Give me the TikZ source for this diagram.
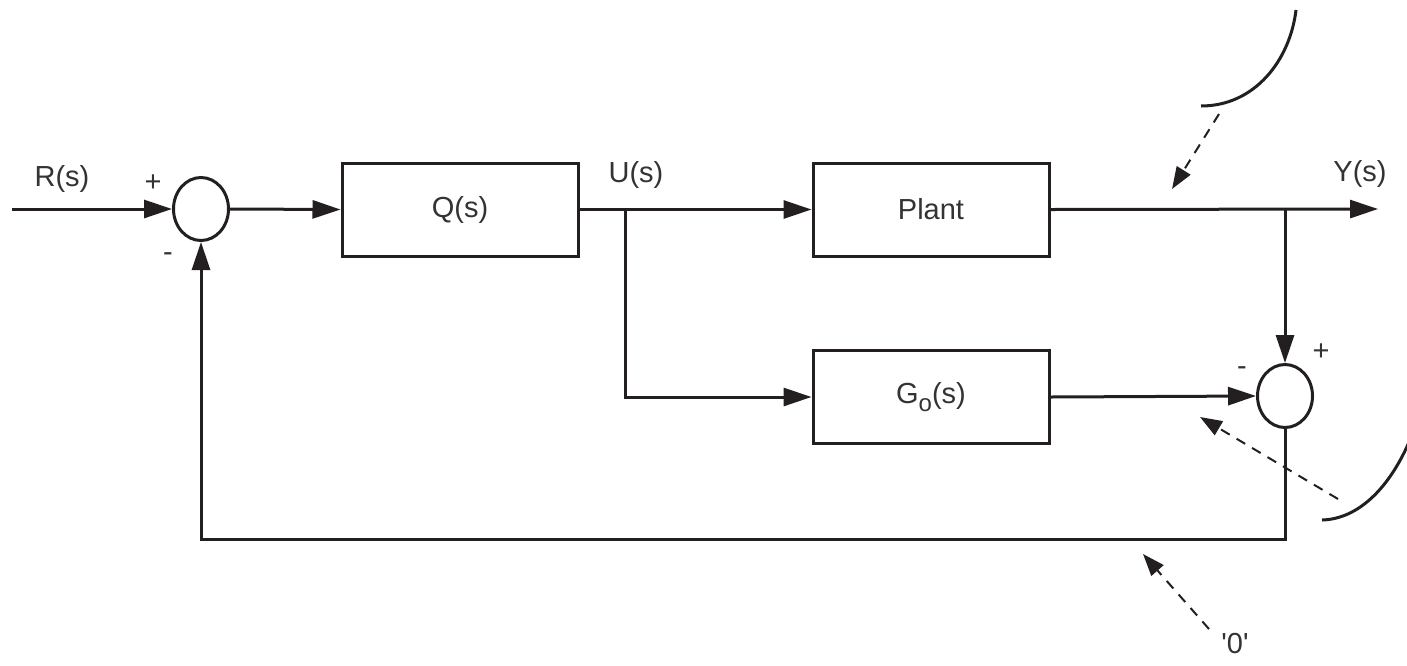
\documentclass[tikz,border=0pt]{standalone}
\usepackage{fontspec}
\setmainfont{Liberation Sans}
\usetikzlibrary{shapes.geometric,arrows.meta}
\definecolor{ln}{HTML}{231F20}
\definecolor{tx}{HTML}{333333}
\begin{document}
\begin{tikzpicture}[x=0.5pt,y=-0.5pt,
  line width=1.5pt, draw=ln,
  blk/.style={draw=ln,line width=1.5pt,minimum width=118pt,minimum height=46.5pt,inner sep=0pt,font=\fontsize{14.5}{17}\selectfont,text=tx},
  sumj/.style={draw=ln,line width=1.5pt,ellipse,minimum width=27.5pt,minimum height=31.5pt,inner sep=0pt},
  lbl/.style={inner sep=0pt,font=\fontsize{14.5}{17}\selectfont,text=tx},
  arr/.style={-{Triangle[length=14pt,width=9pt]}},
  darr/.style={-{Triangle[length=11pt,width=8pt]},line width=1pt,dash pattern=on 5pt off 4pt},
  arc/.style={line width=1.5pt}]
\useasboundingbox (0,0) rectangle (1407,665);
% blocks
\node[sumj] (s1) at (201,209) {};
\node[blk] (Q) at (460,209.5) {Q(s)};
\node[blk] (P) at (931,209.5) {Plant};
\node[blk] (G) at (931,397) {G\raisebox{-4pt}{\fontsize{12}{12}\selectfont o}(s)};
\node[sumj] (s2) at (1285,396) {};
% coordinates
\coordinate (rin) at (12,209);
\coordinate (b1) at (625,209);
\coordinate (j) at (1285,209);
\coordinate (yout) at (1378,209);
\coordinate (c1) at (1285,539);
% labels
\node[lbl] (lR) at (62,179) {R(s)};
\node[lbl] (lU) at (636,175) {U(s)};
\node[lbl] (lY) at (1360,174) {Y(s)};
\node[lbl] (p1) at (153,183) {+};
\node[lbl] (m1) at (168,257) {-};
\node[lbl] (p2) at (1321,352) {+};
\node[lbl] (m2) at (1242,371) {-};
\node[lbl] (lz) at (1235,644) {\textquotesingle0\textquotesingle};
% connectors
\draw[arr] (rin) -- (s1.west);
\draw[arr] (s1.east) -- (Q.west);
\draw[arr] (Q.east) -- (P.west);
\draw[arr] (b1) |- (G.west);
\draw[arr] (P.east) -- (yout);
\draw[arr] (j) -- (s2.north);
\draw[arr] (G.east) -- (s2.west);
\draw[arr] (s2.south) -- (c1) -| (s1.south);
% disturbance arcs
\draw[arc] (1201,106) .. controls (1255,106) and (1290,60) .. (1296,10);
\draw[arc] (1322,520) .. controls (1360,519) and (1392,485) .. (1412,435);
% dashed arrows
\coordinate (d1s) at (1219,114); \coordinate (d1e) at (1172,189);
\coordinate (d2s) at (1338,499); \coordinate (d2e) at (1200,417);
\coordinate (d3s) at (1209,629); \coordinate (d3e) at (1143,554);
\draw[darr] (d1s) -- (d1e);
\draw[darr] (d2s) -- (d2e);
\draw[darr] (d3s) -- (d3e);
\end{tikzpicture}
\end{document}
